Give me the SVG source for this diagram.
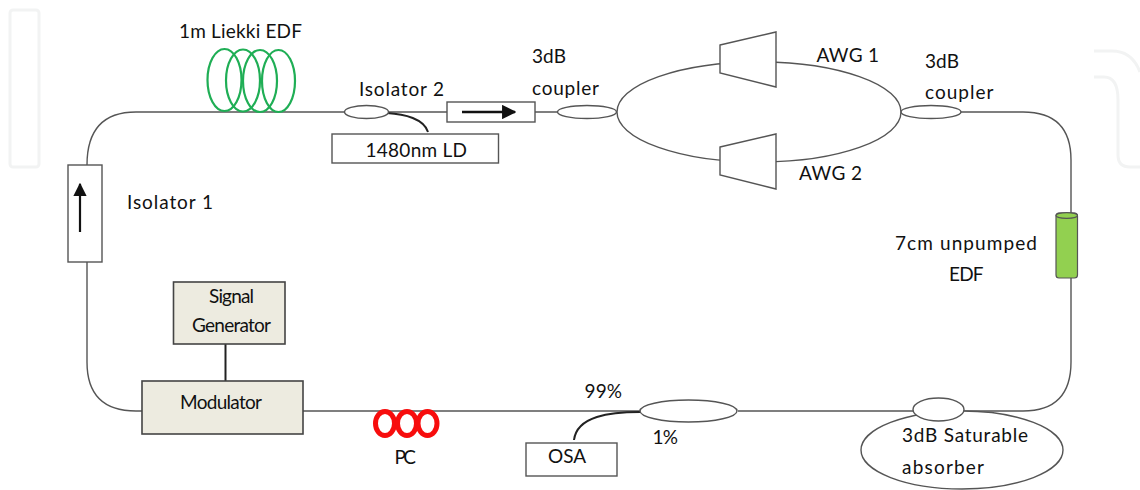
<svg xmlns="http://www.w3.org/2000/svg" width="1140" height="490" viewBox="0 0 1140 490">
<style>
text{font-family:"Lato","Noto Sans",sans-serif;font-size:19px;fill:#111}
.f{fill:none;stroke:#555;stroke-width:1.4}
.b{fill:#fff;stroke:#555;stroke-width:1.4}
.t{fill:#edebe0;stroke:#444;stroke-width:1.6}
.g{fill:none;stroke:#1fae55;stroke-width:2.2}
.r{fill:none;stroke:#f70d0d;stroke-width:5}
.w{fill:none;stroke:#f2f3f3;stroke-width:3}
.k{fill:none;stroke:#222;stroke-width:2}
.c{fill:#92d050;stroke:#555;stroke-width:1.2}
</style>
<defs>
<marker id="ah" viewBox="0 0 10 10" refX="9" refY="5" markerWidth="6" markerHeight="6" markerUnits="strokeWidth" orient="auto"><path d="M0 0L10 5L0 10Z" fill="#111"/></marker>
</defs>
<g id="watermark">
<rect class="w" x="10" y="10" width="29" height="157" rx="3"/>
<path class="w" d="M1094 51H1112Q1132 51 1140 72M1094 77H1104Q1118 77 1118 100V155Q1118 167 1130 167H1140"/>
</g>
<g id="connectors">
<path class="f" d="M345 112H136Q87 112 87 165M87 262V362Q87 411 136 411H142M303 411H640M738 411H913M964 411H1023Q1071 411 1071 362V278M1071 213V160Q1071 112 1023 112H961M388 112H447M535 112H558"/>
<ellipse class="f" cx="759" cy="112" rx="142" ry="50"/>
<path class="k" d="M225.500 344V381"/>
<path class="k" d="M387 113C405 114 424 119 428 132"/>
<path class="k" d="M640 412C610 412 577 416 574 440"/>
</g>
<g id="edf-coil">
<ellipse class="g" cx="224.500" cy="80" rx="17" ry="31"/>
<ellipse class="g" cx="243" cy="80.500" rx="17" ry="31"/>
<ellipse class="g" cx="260" cy="81" rx="17" ry="31"/>
<ellipse class="g" cx="278.500" cy="81" rx="16.500" ry="31"/>
<text x="179" y="38" textLength="123">1m Liekki EDF</text>
</g>
<g id="coupler-isolator2"><ellipse class="b" cx="366.500" cy="112" rx="22" ry="6.500"/><text x="359" y="96" textLength="85">Isolator 2</text></g>
<g id="isolator-2"><rect class="b" x="447" y="102" width="88" height="20"/><path d="M462 112H515" stroke="#111" stroke-width="2.400" fill="none" marker-end="url(#ah)"/></g>
<g id="ld"><rect class="b" x="332" y="134" width="166.500" height="29"/><text x="365.500" y="157" textLength="101.500">1480nm LD</text></g>
<g id="isolator-1"><rect class="b" x="68" y="165" width="34" height="97"/><path d="M80 232V184" stroke="#111" stroke-width="2.200" fill="none" marker-end="url(#ah)"/><text x="127" y="209" textLength="86">Isolator 1</text></g>
<g id="coupler-left"><ellipse class="b" cx="587" cy="112" rx="29.500" ry="6.500"/><text x="532" y="63" textLength="34">3dB</text><text x="532" y="95" textLength="67">coupler</text></g>
<g id="awg-1"><path class="b" d="M720 45L776 32V87L720 73Z"/><text x="816.500" y="62" textLength="62.500">AWG 1</text></g>
<g id="awg-2"><path class="b" d="M720 147L776 134V189L720 175Z"/><text x="799" y="180" textLength="63">AWG 2</text></g>
<g id="coupler-right"><ellipse class="b" cx="931" cy="112" rx="30" ry="6.500"/><text x="925" y="68" textLength="34">3dB</text><text x="925" y="99" textLength="68.500">coupler</text></g>
<g id="unpumped-edf"><rect class="c" x="1056" y="213" width="21.500" height="65" rx="3"/><ellipse class="c" cx="1066.750" cy="215.500" rx="10.750" ry="2.800"/><text x="895" y="250" textLength="142">7cm unpumped</text><text x="949" y="281" textLength="34.500">EDF</text></g>
<g id="signal-generator"><rect class="t" x="173.500" y="282" width="111.500" height="62"/><text x="209" y="303" textLength="45">Signal</text><text x="192" y="332" textLength="79">Generator</text></g>
<g id="modulator"><rect class="t" x="142" y="381" width="161" height="53"/><text x="180" y="409" textLength="82">Modulator</text></g>
<g id="pc"><ellipse class="r" cx="385" cy="423.500" rx="9.500" ry="12"/><ellipse class="r" cx="407" cy="423.500" rx="9.500" ry="12"/><ellipse class="r" cx="427.500" cy="423.500" rx="9.500" ry="12"/><text x="394.500" y="464" textLength="21.500">PC</text></g>
<g id="osa"><rect class="b" x="526" y="443" width="91" height="33"/><text x="548" y="463" textLength="38">OSA</text></g>
<g id="coupler-output"><ellipse class="b" cx="688.500" cy="411" rx="48.500" ry="11"/><text x="584.500" y="398" textLength="37.500">99%</text><text x="652.500" y="444" textLength="25.500">1%</text></g>
<g id="saturable-absorber"><ellipse class="b" cx="962" cy="450" rx="101" ry="39"/><ellipse class="b" cx="938.500" cy="409.500" rx="25.500" ry="11.500"/><text x="902" y="442" textLength="126">3dB Saturable</text><text x="902" y="474" textLength="82">absorber</text></g>
</svg>
